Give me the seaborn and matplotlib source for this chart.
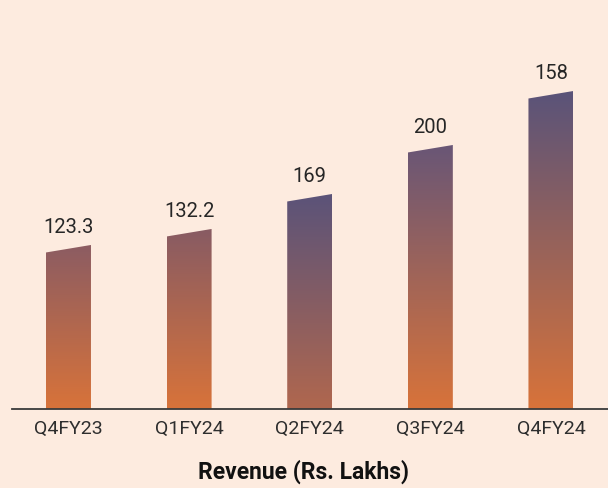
import numpy as np
import matplotlib.pyplot as plt
import seaborn as sns
from matplotlib.colors import LinearSegmentedColormap
from matplotlib.patches import Polygon

quarters = ["Q4FY23", "Q1FY24", "Q2FY24", "Q3FY24", "Q4FY24"]
# bar heights as drawn (relative units), and the labels printed above them
bar_heights = [164, 180, 215, 264, 318]
value_labels = ["123.3", "132.2", "169", "200", "158"]

BG = "#fdebdf"
# gradient (bottom colour, top colour) per bar
GRADIENTS = [
    ("#d8733a", "#8c5c62"),
    ("#d8733a", "#885b63"),
    ("#b0674e", "#5b5379"),
    ("#d8733a", "#695676"),
    ("#d8733a", "#5a5379"),
]
SLANT = 7.5

sns.set_theme(style="white")
plt.rcParams["font.family"] = ["Roboto", "DejaVu Sans"]

fig = plt.figure(figsize=(6.08, 4.88), dpi=100, facecolor=BG)
ax = fig.add_axes([0.019, 0.162, 0.981, 0.838])
ax.set_facecolor(BG)

sns.barplot(x=quarters, y=bar_heights, ax=ax, width=0.373, color="#d8733a")

grad = np.linspace(0, 1, 256).reshape(-1, 1)
for patch, (c0, c1), lab in zip(ax.patches, GRADIENTS, value_labels):
    x0, w, h = patch.get_x(), patch.get_width(), patch.get_height()
    patch.set_visible(False)
    poly = Polygon([(x0, 0), (x0 + w, 0), (x0 + w, h), (x0, h - SLANT)],
                   closed=True, transform=ax.transData, facecolor="none",
                   edgecolor="none")
    ax.add_patch(poly)
    cmap = LinearSegmentedColormap.from_list("g", [c0, c1])
    im = ax.imshow(grad, cmap=cmap, extent=[x0, x0 + w, 0, h],
                   origin="lower", aspect="auto", zorder=2)
    im.set_clip_path(poly)
    ax.text(x0 + w / 2, h + 8, lab, ha="center", va="bottom",
            fontsize=14.5, color="#262626")

ax.set_xlim(-0.472, 4.473)
ax.set_ylim(0, 409)
ax.set_yticks([])
ax.set_xlabel("")
ax.set_ylabel("")
for s in ("top", "right", "left"):
    ax.spines[s].set_visible(False)
ax.spines["bottom"].set_color("#3a3a3a")
ax.spines["bottom"].set_linewidth(1.3)
ax.tick_params(axis="x", length=0, pad=8, labelsize=14, labelcolor="#2e2e2e")

fig.text(0.5, 9 / 488, "Revenue (Rs. Lakhs)", ha="center", va="baseline",
         fontsize=16.5, fontweight="bold", color="#111111")

fig.savefig("out.png", dpi=100, facecolor=BG)
